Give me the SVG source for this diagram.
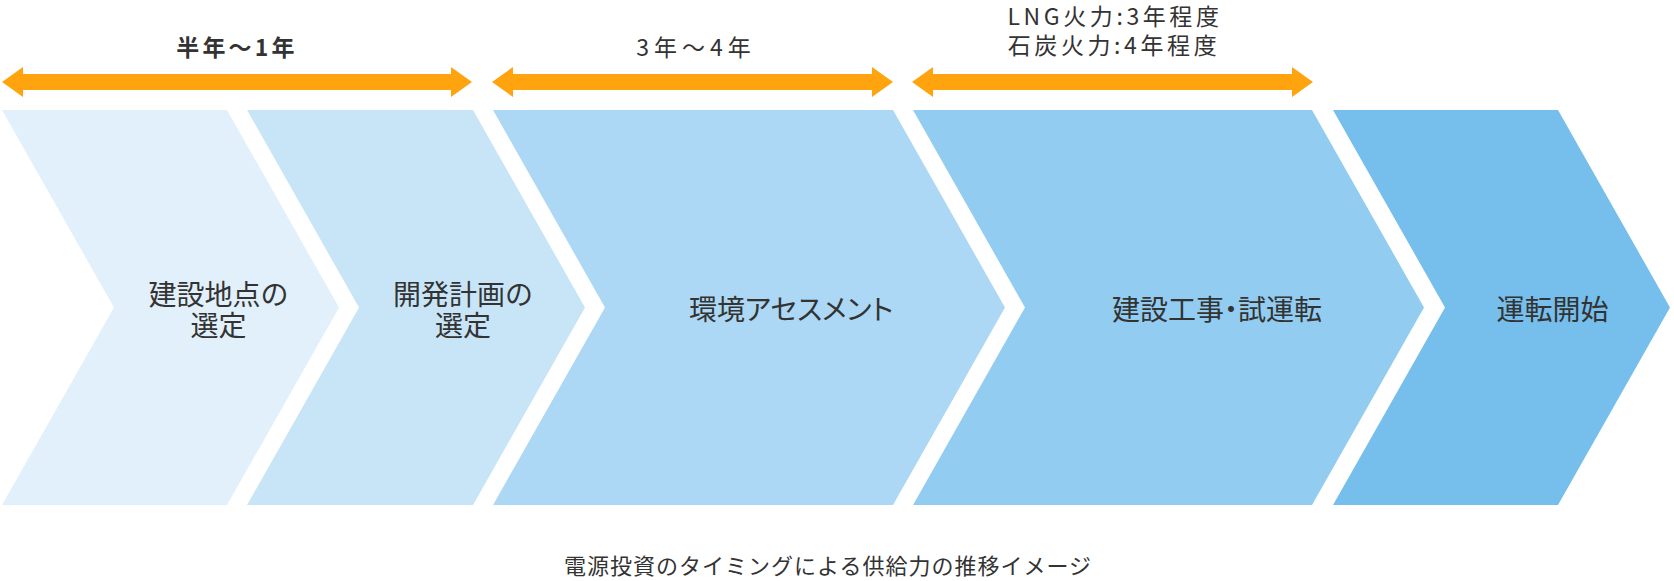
<svg xmlns="http://www.w3.org/2000/svg" width="1674" height="581" viewBox="0 0 1674 581">
<style>
text{font-family:"Noto Sans CJK JP","Noto Sans",sans-serif;fill:#333;text-anchor:middle}
.lbl{font-size:28px}
.p{font-feature-settings:"palt"}
.top{font-size:23px;letter-spacing:3.6px}
.cap{font-size:22px;letter-spacing:1px}
.arrow{fill:#FFA40F}
</style>
<g id="connectors">
<polygon class="arrow" points="2,82 23,67 23,74 451,74 451,67 472,82 451,97 451,90 23,90 23,97"/>
<polygon class="arrow" points="492,82 513,67 513,74 872,74 872,67 893,82 872,97 872,90 513,90 513,97"/>
<polygon class="arrow" points="912,82 933,67 933,74 1292,74 1292,67 1313,82 1292,97 1292,90 933,90 933,97"/>
</g>
<g id="node1">
<polygon fill="#E1F0FA" points="2,110 227,110 339,307.5 227,505 2,505 114,307.5"/>
<text class="lbl"><tspan x="218.5" y="304.5">建設地点の</tspan><tspan x="218.5" y="336">選定</tspan></text>
</g>
<g id="node2">
<polygon fill="#C8E5F8" points="247,110 473,110 585,307.5 473,505 247,505 359,307.5"/>
<text class="lbl"><tspan x="463" y="304.5">開発計画の</tspan><tspan x="463" y="336">選定</tspan></text>
</g>
<g id="node3">
<polygon fill="#ADD8F5" points="493,110 893,110 1005,307.5 893,505 493,505 605,307.5"/>
<text class="lbl p" x="791" y="320">環境アセスメント</text>
</g>
<g id="node4">
<polygon fill="#92CDF1" points="913,110 1312,110 1424,307.5 1312,505 913,505 1025,307.5"/>
<text class="lbl p" x="1217" y="320">建設工事・試運転</text>
</g>
<g id="node5">
<polygon fill="#76BFEC" points="1333,110 1558,110 1670,307.5 1558,505 1333,505 1445,307.5"/>
<text class="lbl" x="1552.5" y="320">運転開始</text>
</g>
<g id="labels">
<text class="top" x="237" y="56" font-weight="bold" style="letter-spacing:3.2px">半年～1年</text>
<text class="top" x="696" y="56" style="letter-spacing:5px">3年～4年</text>
<text class="top"><tspan x="1115" y="24.5">LNG火力:3年程度</tspan><tspan x="1114" y="54">石炭火力:4年程度</tspan></text>
<text class="cap" x="828" y="574">電源投資のタイミングによる供給力の推移イメージ</text>
</g>
</svg>
